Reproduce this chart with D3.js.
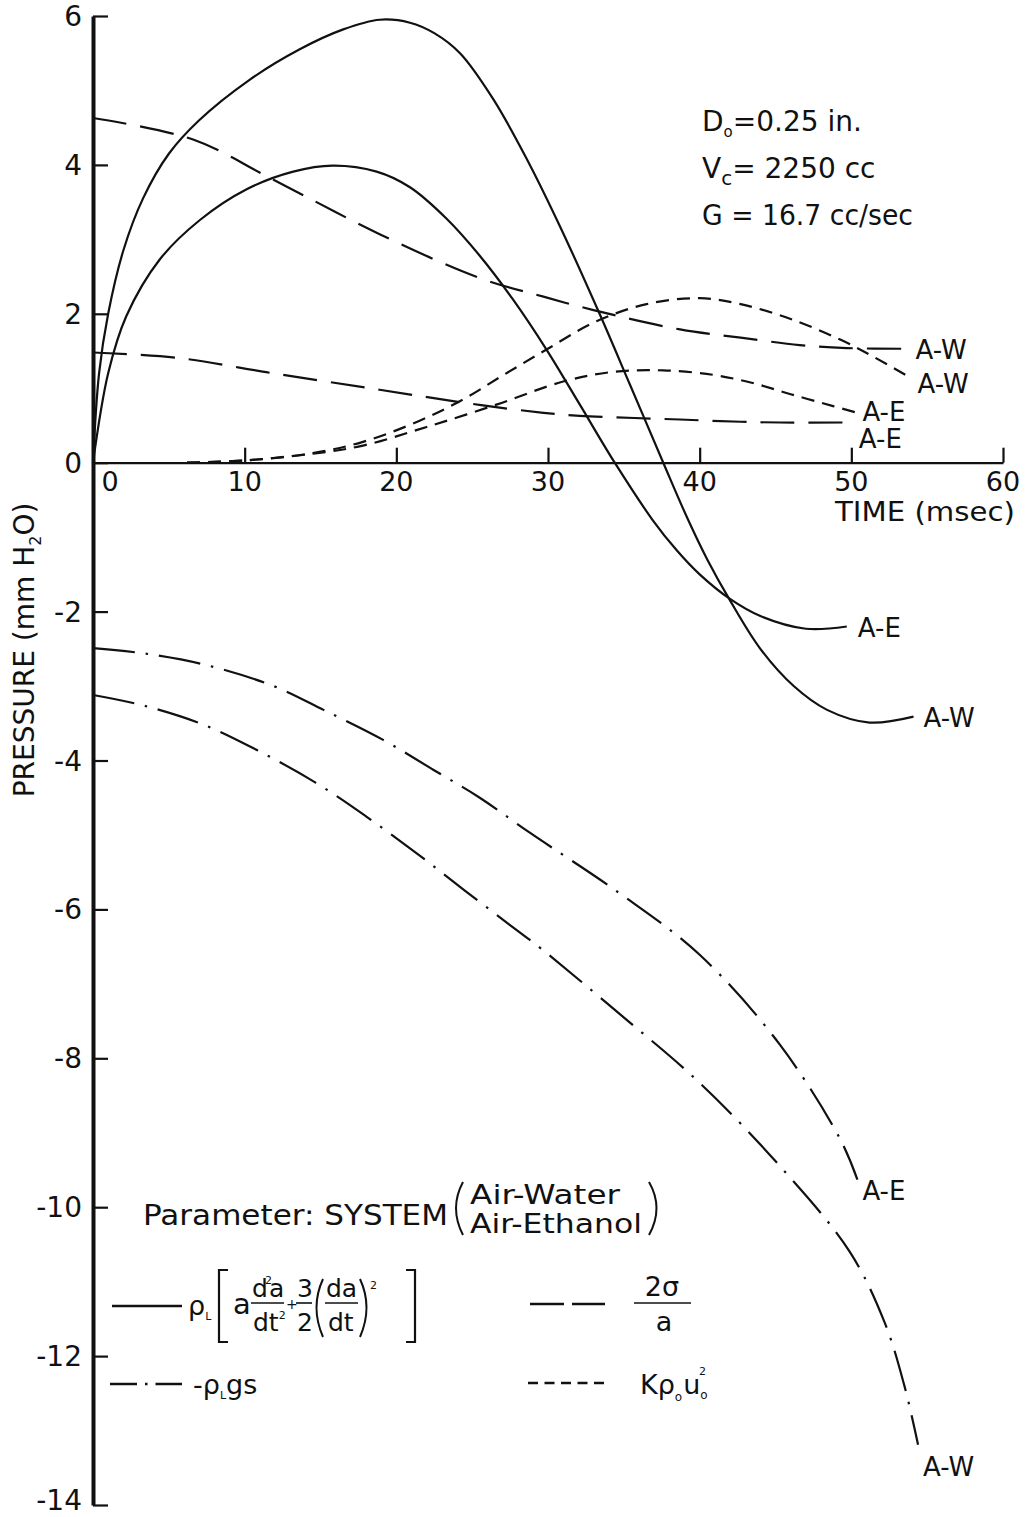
<!DOCTYPE html>
<html>
<head>
<meta charset="utf-8">
<script src="https://cdn.jsdelivr.net/npm/d3@7"></script>
<style>
  html, body { margin: 0; padding: 0; background: #fff; }
  svg text { font-family: "DejaVu Sans", "Liberation Sans", sans-serif; fill: #111; }
</style>
</head>
<body>
<svg id="chart" width="1029" height="1517"></svg>
<script>
// ---- axes -------------------------------------------------------------
const timeTicks = [0, 10, 20, 30, 40, 50, 60];                 // msec
const pressureTicks = [6, 4, 2, 0, -2, -4, -6, -8, -10, -12, -14]; // mm H2O

// ---- inertia term  rho_L [ a d2a/dt2 + 3/2 (da/dt)^2 ]  (solid) -----------
const inertiaAW_t = [0, 0.4, 1.0, 2.0, 3.3, 5.0, 7.0, 10.3, 13.6, 16.5, 18.9, 20.9, 22.5, 24.2, 26.4, 28.6, 30.8, 33.4, 35.4, 37.6, 39.2, 40.5, 42, 44, 46.2, 48.4, 51.2, 54.1];
const inertiaAW_p = [0, 1.20, 2.00, 2.85, 3.55, 4.15, 4.60, 5.14, 5.55, 5.82, 5.95, 5.91, 5.77, 5.50, 4.88, 4.08, 3.17, 2.00, 1.05, 0, -0.75, -1.30, -1.85, -2.50, -3.00, -3.32, -3.49, -3.41];
const inertiaAE_t = [0, 1.0, 2.2, 4.4, 7.05, 10.1, 13.2, 15.8, 18.7, 20.9, 23.3, 25.5, 27.7, 29.9, 32.1, 34.4, 36.9, 38.5, 40, 42, 44, 47, 49.7];
const inertiaAE_p = [0, 1.20, 1.97, 2.73, 3.26, 3.67, 3.91, 3.99, 3.91, 3.70, 3.28, 2.78, 2.19, 1.52, 0.78, 0, -0.77, -1.18, -1.50, -1.83, -2.06, -2.23, -2.20];

// ---- surface tension term  2 sigma / a  (long dash) ------------------------
const tensionAW_t = [0, 6.6, 11.9, 18.9, 25.5, 29.7, 33, 38.7, 42.7, 46.6, 49.7, 53.9];
const tensionAW_p = [4.63, 4.34, 3.80, 3.07, 2.48, 2.23, 2.05, 1.79, 1.68, 1.58, 1.54, 1.53];
const tensionAE_t = [0, 5.5, 11.9, 18.9, 25, 29.7, 32.1, 38.7, 42.7, 45.3, 49.7];
const tensionAE_p = [1.48, 1.41, 1.20, 0.98, 0.79, 0.67, 0.63, 0.58, 0.55, 0.54, 0.54];

// ---- gas momentum term  K rho_G u0^2  (short dash) -------------------------
const momentumAW_t = [6.2, 10, 14.5, 17.8, 21.5, 24.4, 27, 29.9, 33.2, 36.5, 40, 42.7, 46, 49.3, 51.4, 53.9];
const momentumAW_p = [0, 0.03, 0.13, 0.28, 0.56, 0.85, 1.17, 1.52, 1.90, 2.13, 2.21, 2.13, 1.93, 1.65, 1.43, 1.14];
const momentumAE_t = [6.2, 10, 14.5, 17.8, 22, 26.6, 31, 34.3, 37.6, 40.9, 43.5, 46, 48.8, 50.4];
const momentumAE_p = [0, 0.03, 0.12, 0.23, 0.48, 0.78, 1.09, 1.22, 1.24, 1.18, 1.07, 0.92, 0.76, 0.67];

// ---- hydrostatic term  -rho_L g s  (dash-dot) ------------------------------
const hydroAE_t = [0, 3.3, 7.3, 11.9, 15.2, 19.1, 22.4, 25.5, 28.8, 34.7, 40, 45.3, 49.3, 50.4];
const hydroAE_p = [-2.49, -2.56, -2.71, -3.00, -3.32, -3.72, -4.12, -4.50, -4.97, -5.78, -6.61, -7.82, -9.10, -9.63];
const hydroAW_t = [0, 3.3, 7.3, 11, 14.7, 18, 21.3, 24.6, 28.2, 29.5, 34.7, 40, 45.3, 49.9, 52.2, 53.5, 54.4];
const hydroAW_p = [-3.12, -3.26, -3.52, -3.88, -4.30, -4.75, -5.24, -5.76, -6.32, -6.52, -7.40, -8.33, -9.45, -10.60, -11.55, -12.40, -13.19];

const zip = (ts, ps) => ts.map((t, i) => ({ t, p: ps[i] }));

const dashStyle = {
  solid: null,
  longDash: "34 14",
  shortDash: "13 8",
  dashDot: "42 11 2.5 11"
};

const series = [
  { name: "A-W", style: "solid",     pts: zip(inertiaAW_t, inertiaAW_p),   lab: [10, 10] },
  { name: "A-E", style: "solid",     pts: zip(inertiaAE_t, inertiaAE_p),   lab: [11, 11] },
  { name: "A-W", style: "longDash",  pts: zip(tensionAW_t, tensionAW_p),   lab: [5, 10] },
  { name: "A-E", style: "longDash",  pts: zip(tensionAE_t, tensionAE_p),   lab: [12, 26] },
  { name: "A-W", style: "shortDash", pts: zip(momentumAW_t, momentumAW_p), lab: [7, 15] },
  { name: "A-E", style: "shortDash", pts: zip(momentumAE_t, momentumAE_p), lab: [5, 8] },
  { name: "A-E", style: "dashDot",   pts: zip(hydroAE_t, hydroAE_p),       lab: [5, 20] },
  { name: "A-W", style: "dashDot",   pts: zip(hydroAW_t, hydroAW_p),       lab: [5, 31] }
];

const svg = d3.select("#chart");
svg.append("rect").attr("width", 1029).attr("height", 1517).attr("fill", "#fff");

const x = d3.scaleLinear().domain([0, 60]).range([93, 1003]);
const y = d3.scaleLinear().domain([-14, 6]).range([1505, 16]);

// ---- y axis: heavy spine with inward ticks ----------------------------------
const yAxis = svg.append("g")
  .attr("transform", `translate(${x(0)},0)`)
  .call(d3.axisRight(y).tickValues(pressureTicks).tickSize(15).tickSizeOuter(0).tickFormat(""));
yAxis.select(".domain").attr("stroke", "#111").attr("stroke-width", 4);
yAxis.selectAll(".tick line").attr("stroke", "#111").attr("stroke-width", 2.2);

svg.append("g").selectAll("text").data(pressureTicks).join("text")
  .attr("x", 82).attr("y", d => y(d) + (d === -14 ? 5 : 10))
  .attr("text-anchor", "end").attr("font-size", 28)
  .text(d => String(d));

// ---- x axis along p = 0 with upward ticks ---------------------------------
const xAxis = svg.append("g")
  .attr("transform", `translate(0,${y(0)})`)
  .call(d3.axisTop(x).tickValues(timeTicks.slice(1)).tickSize(15).tickSizeOuter(0).tickFormat(""));
xAxis.select(".domain").attr("stroke", "#111").attr("stroke-width", 2.2);
xAxis.selectAll(".tick line").attr("stroke", "#111").attr("stroke-width", 2.2);

svg.append("g").selectAll("text").data(timeTicks).join("text")
  .attr("x", d => d === 0 ? x(0) + 17 : x(d))
  .attr("y", y(0) + 28)
  .attr("text-anchor", "middle").attr("font-size", 27)
  .text(d => String(d));

svg.append("text").attr("x", 835).attr("y", 521).attr("font-size", 27)
  .attr("textLength", 180).attr("lengthAdjust", "spacingAndGlyphs")
  .text("TIME (msec)");

const yTitle = svg.append("text")
  .attr("transform", "translate(34,650) rotate(-90)")
  .attr("text-anchor", "middle").attr("font-size", 28);
yTitle.append("tspan").text("PRESSURE (mm H");
yTitle.append("tspan").attr("font-size", 16).attr("dy", 7).text("2");
yTitle.append("tspan").attr("dy", -7).text("O)");

// ---- curves -----------------------------------------------------------
const line = d3.line().x(d => x(d.t)).y(d => y(d.p)).curve(d3.curveCatmullRom.alpha(0.5));

svg.append("g").selectAll("path").data(series).join("path")
  .attr("d", d => line(d.pts))
  .attr("fill", "none").attr("stroke", "#111").attr("stroke-width", 2.2)
  .attr("stroke-dasharray", d => dashStyle[d.style]);

svg.append("g").selectAll("text").data(series).join("text")
  .attr("x", d => x(d.pts[d.pts.length - 1].t) + d.lab[0])
  .attr("y", d => y(d.pts[d.pts.length - 1].p) + d.lab[1])
  .attr("font-size", 26)
  .text(d => d.name);

// ---- run conditions -------------------------------------------------------
const cond = svg.append("g").attr("font-size", 28);
const c1 = cond.append("text").attr("x", 702).attr("y", 131);
c1.append("tspan").text("D");
c1.append("tspan").attr("font-size", 15).attr("dy", 6).text("o");
c1.append("tspan").attr("dy", -6).text("=0.25 in.");
const c2 = cond.append("text").attr("x", 702).attr("y", 178);
c2.append("tspan").text("V");
c2.append("tspan").attr("font-size", 20).attr("dy", 7).text("c");
c2.append("tspan").attr("dy", -7).text("= 2250 cc");
cond.append("text").attr("x", 702).attr("y", 225)
  .attr("textLength", 211).attr("lengthAdjust", "spacingAndGlyphs")
  .text("G = 16.7 cc/sec");

// ---- legend ---------------------------------------------------------------
const ink = "#111";
const lg = svg.append("g");
lg.append("text").attr("x", 143).attr("y", 1225).attr("font-size", 28)
  .attr("textLength", 305).attr("lengthAdjust", "spacingAndGlyphs")
  .text("Parameter: SYSTEM");
lg.append("path").attr("d", "M463 1182 Q449 1208 463 1235").attr("fill", "none").attr("stroke", ink).attr("stroke-width", 2);
lg.append("text").attr("x", 470).attr("y", 1204).attr("font-size", 26)
  .attr("textLength", 150).attr("lengthAdjust", "spacingAndGlyphs").text("Air-Water");
lg.append("text").attr("x", 470).attr("y", 1233).attr("font-size", 26)
  .attr("textLength", 172).attr("lengthAdjust", "spacingAndGlyphs").text("Air-Ethanol");
lg.append("path").attr("d", "M649 1182 Q664 1208 649 1235").attr("fill", "none").attr("stroke", ink).attr("stroke-width", 2);

const sample = (x1, x2, yy, style) => lg.append("line")
  .attr("x1", x1).attr("x2", x2).attr("y1", yy).attr("y2", yy)
  .attr("stroke", ink).attr("stroke-width", 2.3)
  .attr("stroke-dasharray", style);

sample(112, 182, 1306, null);
sample(110, 182, 1384, "27 8 2.5 8");
sample(530, 605, 1304, "34 8");
sample(528, 605, 1383, "10 6.5");

// inertia formula
const f = lg.append("g").attr("font-size", 25);
const sub = (sel, s, size, dy) => sel.append("tspan").attr("font-size", size).attr("dy", dy).text(s);
const rho = f.append("text").attr("x", 188).attr("y", 1315).attr("font-size", 27);
rho.append("tspan").text("ρ");
sub(rho, "L", 11, 5);
f.append("path").attr("d", "M228 1270 h-9 v72 h9").attr("fill", "none").attr("stroke", ink).attr("stroke-width", 2.2);
f.append("text").attr("x", 233).attr("y", 1314).attr("font-size", 29).text("a");
const n1 = f.append("text").attr("x", 252).attr("y", 1297);
n1.append("tspan").text("d");
sub(n1, "2", 11, -13).attr("dx", -3);
sub(n1, "a", 25, 13).attr("dx", -3);
f.append("line").attr("x1", 251).attr("x2", 284).attr("y1", 1303).attr("y2", 1303).attr("stroke", ink).attr("stroke-width", 1.6);
const d1 = f.append("text").attr("x", 253).attr("y", 1331);
d1.append("tspan").text("dt");
sub(d1, "2", 11, -12);
f.append("text").attr("x", 286).attr("y", 1309).attr("font-size", 14).text("+");
f.append("text").attr("x", 297).attr("y", 1297).text("3");
f.append("line").attr("x1", 296).attr("x2", 312).attr("y1", 1303).attr("y2", 1303).attr("stroke", ink).attr("stroke-width", 1.6);
f.append("text").attr("x", 297).attr("y", 1331).text("2");
f.append("path").attr("d", "M323 1279 Q310 1307 323 1337").attr("fill", "none").attr("stroke", ink).attr("stroke-width", 2);
f.append("text").attr("x", 326).attr("y", 1297).text("da");
f.append("line").attr("x1", 325).attr("x2", 358).attr("y1", 1303).attr("y2", 1303).attr("stroke", ink).attr("stroke-width", 1.6);
f.append("text").attr("x", 328).attr("y", 1331).text("dt");
f.append("path").attr("d", "M360 1279 Q373 1307 360 1337").attr("fill", "none").attr("stroke", ink).attr("stroke-width", 2);
f.append("text").attr("x", 370).attr("y", 1289).attr("font-size", 11).text("2");
f.append("path").attr("d", "M406 1270 h9 v72 h-9").attr("fill", "none").attr("stroke", ink).attr("stroke-width", 2.2);

// surface tension formula
lg.append("text").attr("x", 662).attr("y", 1296).attr("text-anchor", "middle").attr("font-size", 27).text("2σ");
lg.append("line").attr("x1", 634).attr("x2", 691).attr("y1", 1303).attr("y2", 1303).attr("stroke", ink).attr("stroke-width", 1.6);
lg.append("text").attr("x", 664).attr("y", 1331).attr("text-anchor", "middle").attr("font-size", 27).text("a");

// hydrostatic formula
const h = lg.append("text").attr("x", 193).attr("y", 1394).attr("font-size", 27);
h.append("tspan").text("-ρ");
sub(h, "L", 11, 5);
sub(h, "gs", 27, -5);

// gas momentum formula  K rho_o u_o^2
const k = lg.append("text").attr("x", 640).attr("y", 1394).attr("font-size", 27);
k.append("tspan").text("Kρ");
sub(k, "o", 12, 7);
sub(k, "u", 27, -7).attr("dx", 1);
sub(k, "o", 12, 5);
lg.append("text").attr("x", 699).attr("y", 1375).attr("font-size", 11).text("2");
</script>
</body>
</html>
